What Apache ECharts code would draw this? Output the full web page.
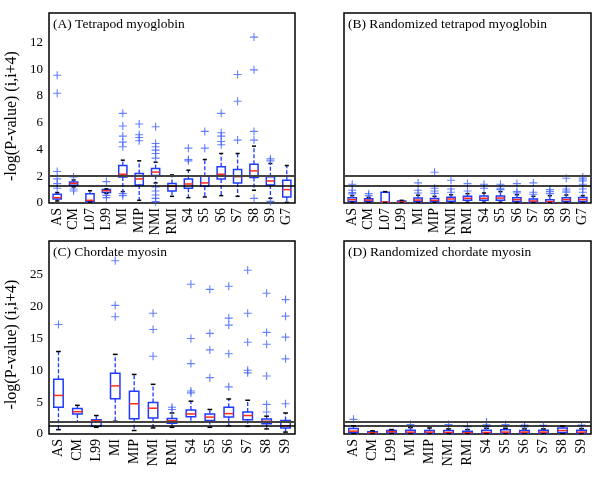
<!DOCTYPE html>
<html><head><meta charset="utf-8">
<script src="https://cdn.jsdelivr.net/npm/echarts@6/dist/echarts.min.js"></script>
<style>html,body{margin:0;padding:0;background:#fff}#c{width:600px;height:477px}</style>
</head><body><div id="c"></div><script>
// Categories
const catsA = ['AS','CM','L07','L99','MI','MIP','NMI','RMI','S4','S5','S6','S7','S8','S9','G7'];
const catsC = ['AS','CM','L99','MI','MIP','NMI','RMI','S4','S5','S6','S7','S8','S9'];
// Significance thresholds (-log10 0.01 and -log10 0.05)
const thresholds = [2.0, 1.301];
// Panel titles
const titles = ['(A) Tetrapod myoglobin','(B) Randomized tetrapod myoglobin','(C) Chordate myosin','(D) Randomized chordate myosin'];
const yLabel = '-log(P-value) (i,i+4)';

// Box summaries: [lower whisker, Q1, median, Q3, upper whisker]
const boxA = [
 [0.15,0.3,0.4,0.65,0.78],[1.2,1.33,1.47,1.57,1.72],[0.05,0.1,0.2,0.7,0.92],[0.72,0.78,0.92,1.0,1.05],
 [0.85,1.95,2.15,2.8,3.2],[0.2,1.35,1.8,2.2,3.15],[1.5,2.05,2.31,2.58,3.05],[0.5,0.9,1.25,1.45,2.1],
 [0.4,1.1,1.42,1.8,2.45],[0.45,1.25,1.5,2.0,3.25],[0.55,1.8,2.15,2.7,3.7],[0.5,1.5,1.97,2.5,3.7],
 [0.95,1.9,2.4,2.9,4.25],[0.35,1.35,1.65,1.97,2.95],[0.05,0.45,1.0,1.7,2.8]];
const outA = [[9.55,8.2,2.35,1.8,1.45,1.1],[1.95,1.05,0.9],[],[1.6,0.57,0.4],
 [6.7,5.75,5.0,4.55,4.2,0.7,0.55],[5.9,5.1,4.9,4.65],[5.7,4.45,4.2,3.95,3.7,3.35,1.2,0.9,0.6,0.35,0.1],[],
 [4.1,3.25,3.15],[5.35,4.1],[6.7,5.25,5.0,4.6,4.35],[9.6,7.6,4.7],
 [12.4,9.95,5.35,4.7,0.35],[3.3,3.15,0.12],[]];

const boxB = [
 [0.05,0.12,0.25,0.4,0.55],[0.05,0.13,0.22,0.32,0.42],[0.03,0.05,0.07,0.8,0.85],[0.02,0.04,0.08,0.15,0.2],
 [0.03,0.12,0.22,0.38,0.58],[0.03,0.1,0.2,0.33,0.5],[0.03,0.14,0.3,0.43,0.62],[0.05,0.2,0.35,0.5,0.7],
 [0.05,0.2,0.35,0.52,0.75],[0.05,0.2,0.37,0.52,0.85],[0.03,0.12,0.25,0.4,0.62],[0.02,0.08,0.15,0.3,0.5],
 [0.02,0.05,0.1,0.25,0.55],[0.03,0.12,0.25,0.4,0.6],[0.03,0.12,0.25,0.42,0.55]];
const outB = [[1.4,0.95,0.78,0.68],[0.7,0.55],[],[],
 [1.5,0.95,0.75],[2.3,1.1,0.9,0.72],[1.7,1.05,0.8],[1.45,0.9],
 [1.4,1.1],[1.4,1.1,1.0],[1.45,0.85,0.75],[1.5,0.8,0.65],
 [1.0,0.85,0.7],[1.85,1.05,0.9,0.8],[1.95,1.8,1.65,1.4,1.05,0.8]];

const boxC = [
 [0.68,4.2,6.05,8.6,12.95],[1.85,3.15,3.5,4.0,4.5],[1.05,1.2,2.1,2.25,2.9],[2.0,5.55,7.55,9.55,12.5],
 [0.55,2.4,4.75,6.7,9.35],[0.95,2.5,4.05,4.95,7.8],[1.05,1.7,2.1,2.45,3.3],[1.85,2.7,3.15,3.75,5.15],
 [1.05,2.1,2.65,3.15,3.85],[1.3,2.65,3.2,4.2,5.5],[1.2,2.25,2.9,3.45,5.3],[0.8,1.6,2.0,2.35,2.8],
 [0.3,0.95,1.3,2.1,3.3]];
const outC = [[17.2],[],[],[27.2,20.2,18.4],
 [],[18.95,16.4,12.2],[4.2,3.85],[23.5,15.0,11.05,6.75,6.45],
 [22.7,15.8,13.2,8.85],[23.2,18.2,17.1,12.6,7.4],[25.7,18.95,14.4,10.0,9.6],[22.1,15.95,14.1,9.1,4.65,3.45],
 [21.1,18.5,15.2,11.8,4.75]];

const boxD = [
 [0.05,0.25,0.45,0.85,1.3],[0.05,0.1,0.2,0.35,0.5],[0.05,0.15,0.35,0.55,0.7],[0.02,0.1,0.3,0.6,1.0],
 [0.02,0.1,0.3,0.55,0.95],[0.02,0.1,0.25,0.55,0.8],[0.02,0.08,0.2,0.45,0.7],[0.02,0.1,0.25,0.6,0.9],
 [0.02,0.1,0.3,0.65,0.9],[0.02,0.1,0.3,0.55,0.8],[0.02,0.1,0.3,0.6,0.8],[0.05,0.25,0.55,0.95,1.25],
 [0.02,0.1,0.3,0.6,0.85]];
const outD = [[2.3],[],[],[1.5],[],[1.5],[1.15],[1.9,1.45,1.15],[1.5],[1.4,1.1],[1.35],[],[1.4]];

const FONT = 'Liberation Serif';
const BLUE = '#1f3bff';
const PLUS_BLUE = '#3f60ff';
const RED = '#ff2a1a';
const PLUS = 'path://M4.3,0H5.7V4.3H10V5.7H5.7V10H4.3V5.7H0V4.3H4.3Z';

function renderBox(params, api) {
  const i = api.value(0);
  const bw = api.size([1, 0])[0];
  const half = bw * 0.25, capHalf = bw * 0.125;
  const pL = api.coord([i, api.value(1)]);
  const p1 = api.coord([i, api.value(2)]);
  const pM = api.coord([i, api.value(3)]);
  const p3 = api.coord([i, api.value(4)]);
  const pH = api.coord([i, api.value(5)]);
  const x = pL[0];
  const ln = (x1, y1, x2, y2, style) => ({type: 'line', shape: {x1, y1, x2, y2}, style});
  return {type: 'group', children: [
    ln(x, p3[1], x, pH[1], {stroke: BLUE, lineWidth: 1.3, lineDash: [4, 2]}),
    ln(x, p1[1], x, pL[1], {stroke: BLUE, lineWidth: 1.3, lineDash: [4, 2]}),
    {type: 'rect', shape: {x: x - half, y: p3[1], width: 2 * half, height: p1[1] - p3[1]},
     style: {fill: 'none', stroke: BLUE, lineWidth: 1.5}},
    ln(x - half, pM[1], x + half, pM[1], {stroke: RED, lineWidth: 1.5}),
    ln(x - capHalf, pH[1], x + capHalf, pH[1], {stroke: '#000', lineWidth: 1.5}),
    ln(x - capHalf, pL[1], x + capHalf, pL[1], {stroke: '#000', lineWidth: 1.5})
  ]};
}

function boxSeries(boxes, idx) {
  return {type: 'custom', xAxisIndex: idx, yAxisIndex: idx, renderItem: renderBox, clip: true,
    data: boxes.map((b, i) => [i].concat(b)), encode: {x: 0, y: [1, 2, 3, 4, 5]}, z: 3};
}
function outSeries(outs, idx) {
  const data = [];
  outs.forEach((arr, i) => arr.forEach(v => data.push([i, v])));
  return {type: 'scatter', xAxisIndex: idx, yAxisIndex: idx, symbol: PLUS, symbolSize: 8,
    itemStyle: {color: PLUS_BLUE}, data, z: 4, silent: true,
    markLine: {silent: true, symbol: ['none', 'none'], label: {show: false}, animation: false,
      data: [{yAxis: thresholds[0], lineStyle: {color: '#444', width: 2, type: 'solid'}},
             {yAxis: thresholds[1], lineStyle: {color: '#000', width: 1.5, type: 'solid'}}]}};
}

const grids = [
  {left: 49, top: 13, width: 246, height: 190},
  {left: 344, top: 13, width: 247, height: 190},
  {left: 49, top: 241, width: 246, height: 193},
  {left: 344, top: 241, width: 247, height: 193}
].map(g => Object.assign(g, {show: true, borderColor: '#000', borderWidth: 1.5, backgroundColor: 'transparent'}));

const txt = {fontFamily: FONT, fontSize: 13, color: '#000'};
function xAxis(cats, idx) {
  return {type: 'category', gridIndex: idx, data: cats, boundaryGap: true,
    axisLine: {show: false}, axisTick: {show: false}, splitLine: {show: false},
    axisLabel: {rotate: 90, interval: 0, margin: 5, fontFamily: FONT, fontSize: 14, color: '#000'}};
}
function yAxis(idx, max, interval, lastLabel, showLabels, shift) {
  const ax = {type: 'value', gridIndex: idx, min: 0, max, interval,
    axisLine: {show: false}, axisTick: {show: false}, splitLine: {show: false},
    axisLabel: Object.assign({show: showLabels, margin: 6, formatter: v => (v > lastLabel ? '' : String(v))}, txt)};
  if (showLabels) {
    ax.name = yLabel; ax.nameLocation = 'middle'; ax.nameGap = 29;
    ax.nameTextStyle = {fontFamily: FONT, fontSize: 16, color: '#000', padding: [0, shift, 0, 0]};
  }
  return ax;
}

const titlePos = [[53, 17], [348, 17], [53, 245], [348, 245]];
const option = {
  animation: false,
  backgroundColor: '#fff',
  title: titles.map((t, k) => ({text: t, left: titlePos[k][0], top: titlePos[k][1], padding: 0,
    textStyle: {fontFamily: FONT, fontSize: 13.5, fontWeight: 'normal', color: '#000'}})),
  grid: grids,
  xAxis: [xAxis(catsA, 0), xAxis(catsA, 1), xAxis(catsC, 2), xAxis(catsC, 3)],
  yAxis: [yAxis(0, 14.2, 2, 12, true, 16), yAxis(1, 14.2, 2, 12, false, 0),
          yAxis(2, 30.3, 5, 25, true, 14), yAxis(3, 30.3, 5, 25, false, 0)],
  series: [boxSeries(boxA, 0), outSeries(outA, 0), boxSeries(boxB, 1), outSeries(outB, 1),
           boxSeries(boxC, 2), outSeries(outC, 2), boxSeries(boxD, 3), outSeries(outD, 3)]
};
echarts.init(document.getElementById('c'), null, {renderer: 'canvas'}).setOption(option);
</script></body></html>
